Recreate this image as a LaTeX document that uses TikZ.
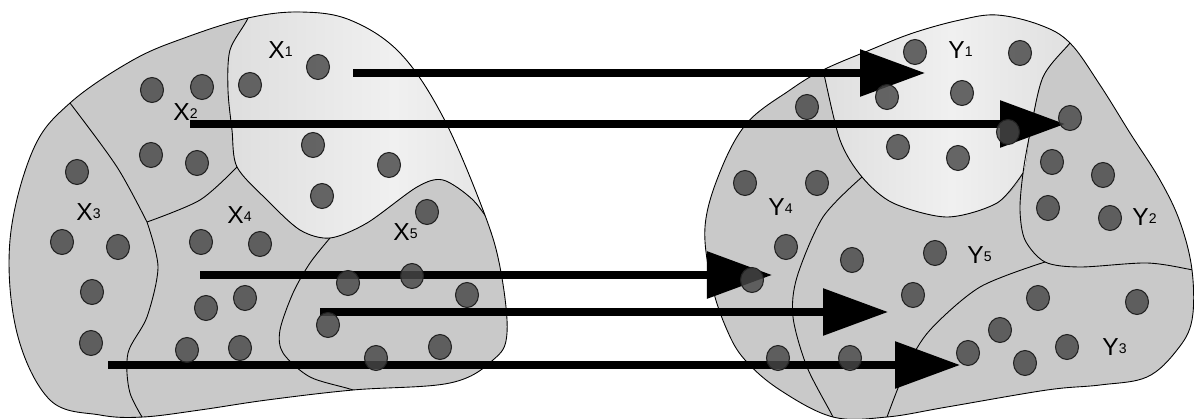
\documentclass[tikz,border=0pt]{standalone}
\usepackage{fontspec}
\setmainfont{Liberation Sans}
\usetikzlibrary{arrows.meta,shapes.geometric}
\definecolor{regiongray}{HTML}{C9C9C9}
\definecolor{lightregion}{HTML}{DEDEDE}
\definecolor{lightmid}{HTML}{F0F0F0}
\definecolor{dotfill}{HTML}{474747}
\definecolor{dotline}{HTML}{222222}
\begin{document}
\begin{tikzpicture}[x=0.02cm,y=-0.02cm,
  border/.style={line width=0.5pt, draw=black},
  dot/.style={ellipse, minimum width=0.46cm, minimum height=0.5cm, inner sep=0pt,
    fill=dotfill, fill opacity=0.82, draw=dotline, line width=0.6pt},
  lab/.style={anchor=base west, inner sep=0pt, font=\fontsize{14}{14}\selectfont},
  bigarrow/.style={line width=4pt, -{Triangle[length=37pt,width=26pt]}},
]
\useasboundingbox (0,0) rectangle (1194,419);
\def\sub#1{\raisebox{1pt}{\fontsize{8}{8}\selectfont #1}}

% ---------- left blob ----------
\def\leftouter{plot[smooth cycle, tension=0.6] coordinates {(70,103) (133,60) (187,37) (248,18) (300,12) (350,20) (400,53) (443,117) (483,210) (500,267) (507,333) (493,360) (450,383) (353,390) (267,400) (200,410) (143,417) (100,415) (50,400) (17,333) (10,240) (33,150)}}
\fill[regiongray] \leftouter;
\begin{scope}
  \clip \leftouter;
  \fill[left color=lightregion, right color=lightregion, middle color=lightmid]
    plot[smooth] coordinates {(252,-5) (248,18) (230,50) (228,90) (232,130) (237,167) (267,200) (300,230) (330,238) (367,223) (417,187) (443,180) (473,200) (495,230)}
    -- (560,240) -- (560,-20) -- (252,-20) -- cycle;
  \draw[border] plot[smooth] coordinates {(252,-5) (248,18) (230,50) (228,90) (232,130) (237,167) (267,200) (300,230) (330,238) (367,223) (417,187) (443,180) (473,200) (495,230)};
  \draw[border] plot[smooth] coordinates {(237,167) (200,200) (147,222)};
  \draw[border] plot[smooth] coordinates {(55,85) (70,103) (117,167) (147,222)};
  \draw[border] plot[smooth] coordinates {(147,222) (158,267) (147,317) (128,353) (130,393) (150,430)};
  \draw[border] plot[smooth] coordinates {(330,238) (310,263) (293,293) (280,330) (283,353) (310,377) (353,390) (380,402)};
\end{scope}
\draw[border] \leftouter;

% ---------- right blob ----------
\def\rightouter{plot[smooth cycle, tension=0.6] coordinates {(705,227) (720,172) (747,123) (790,90) (823,70) (870,50) (913,33) (960,20) (997,15) (1040,25) (1070,43) (1100,85) (1130,133) (1160,180) (1180,222) (1192,270) (1192,320) (1177,350) (1147,377) (1100,385) (1047,390) (947,407) (887,417) (833,417) (780,390) (745,360) (727,330) (712,285)}}
\fill[regiongray] \rightouter;
\begin{scope}
  \clip \rightouter;
  \fill[left color=lightregion, right color=lightregion, middle color=lightmid]
    plot[smooth] coordinates {(818,50) (823,70) (840,140) (862,177) (893,203) (947,217) (997,203) (1023,173) (1030,133) (1043,77) (1070,43) (1085,25)}
    -- (1085,-10) -- (818,-10) -- cycle;
  \draw[border] plot[smooth] coordinates {(818,50) (823,70) (840,140) (862,177) (893,203) (947,217) (997,203) (1023,173)};
  \draw[border] plot[smooth] coordinates {(1085,25) (1070,43) (1043,77) (1030,133) (1023,173) (1020,210) (1025,240) (1045,262) (1080,267) (1147,263) (1193,270) (1215,275)};
  \draw[border] plot[smooth] coordinates {(862,177) (823,217) (797,277) (793,317) (807,367) (833,417) (840,435)};
  \draw[border] plot[smooth] coordinates {(1045,262) (980,287) (930,330) (907,367) (887,417) (882,435)};
\end{scope}
\draw[border] \rightouter;

% ---------- labels ----------
\node[lab] (x1) at (268,58) {X\sub{1}};
\node[lab] (x2) at (173,120) {X\sub{2}};
\node[lab] (x3) at (76,220) {X\sub{3}};
\node[lab] (x4) at (227,223) {X\sub{4}};
\node[lab] (x5) at (393,240) {X\sub{5}};
\node[lab] (y1) at (948,58) {Y\sub{1}};
\node[lab] (y2) at (1132,225) {Y\sub{2}};
\node[lab] (y3) at (1102,355) {Y\sub{3}};
\node[lab] (y4) at (768,215) {Y\sub{4}};
\node[lab] (y5) at (967,263) {Y\sub{5}};

% ---------- arrows ----------
\coordinate (a1s) at (353,73);  \coordinate (a1e) at (925,73);
\coordinate (a2s) at (190,124); \coordinate (a2e) at (1065,124);
\coordinate (a3s) at (200,275); \coordinate (a3e) at (772,275);
\coordinate (a4s) at (320,312); \coordinate (a4e) at (888,312);
\coordinate (a5s) at (108,365); \coordinate (a5e) at (960,365);
\draw[bigarrow] (a1s) -- (a1e);
\draw[bigarrow] (a2s) -- (a2e);
\draw[bigarrow] (a3s) -- (a3e);
\draw[bigarrow] (a4s) -- (a4e);
\draw[bigarrow] (a5s) -- (a5e);

% ---------- dots ----------
\foreach \p [count=\i] in {(318,67),(152,90),(202,87),(250,85),(313,145),(389,165),(151,155),(197,163),(322,196),(77,172),(427,212),(62,242),(118,247),(201,242),(260,244),(92,292),(348,283),(412,276),(467,295),(245,298),(206,308),(328,325),(91,343),(187,350),(240,348),(440,347),(376,358)}
  \node[dot] (l\i) at \p {};
\foreach \p [count=\i] in {(915,52),(1020,53),(807,107),(887,97),(962,93),(1070,118),(1008,132),(898,147),(958,158),(1052,162),(1103,175),(745,183),(817,183),(1048,208),(1110,218),(786,247),(852,260),(935,253),(752,280),(913,295),(1038,298),(1137,302),(1000,330),(968,353),(1067,347),(1025,363),(778,358),(850,358)}
  \node[dot] (r\i) at \p {};
\end{tikzpicture}
\end{document}
